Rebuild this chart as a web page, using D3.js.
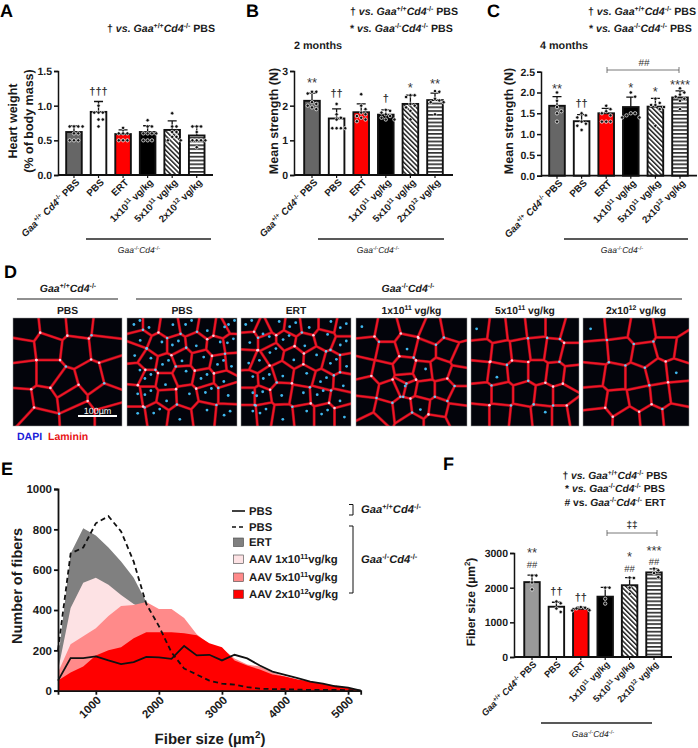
<!DOCTYPE html>
<html><head><meta charset="utf-8"><script src="https://cdn.jsdelivr.net/npm/d3@7"></script>
<style>html,body{margin:0;padding:0;background:#fff}svg{display:block;opacity:.999}text{font-family:"Liberation Sans",Arial,sans-serif;font-weight:bold;fill:#1a1a1a;text-rendering:geometricPrecision}.pl{font-weight:700;fill:#000}</style></head>
<body><svg id="c" width="698" height="748"></svg>
<script>
const doseCats=["Gaa+/+","PBS","ERT","1e11","5e11","2e12"];
const catLabels=["_Gaa_^{+/+} _Cd4_^{-/-} PBS","PBS","ERT","1x10^{11} vg/kg","5x10^{11} vg/kg","2x10^{12} vg/kg"];
const heartMean=[0.62,0.91,0.59,0.62,0.65,0.57];
const heartSd=[0.09,0.15,0.06,0.09,0.13,0.13];
const heartDots=[[.70,.70,.70,.70,.60,.60,.50,.50,.50],[1.0,.90,.90,.90,.80,.80,.70],[.68,.60,.60,.60,.50,.50,.50],[.79,.70,.70,.60,.60,.60,.60,.50,.50,.50],[.89,.70,.70,.62,.62,.55,.55,.50,.50],[.70,.70,.70,.62,.50,.50,.50,.50,.40]];
const heartNotes=[["†††",1,1.15]];
const str2Mean=[2.14,1.63,1.81,1.74,2.05,2.16];
const str2Sd=[.22,.28,.24,.14,.25,.2];
const str2Dots=[[2.4,2.4,2.35,2.1,2.05,2.0,1.95,1.9],[2.05,1.75,1.65,1.6,1.35,1.35,1.35,1.35],[2.33,2.0,1.9,1.8,1.75,1.7,1.65,1.6,1.55],[1.88,1.85,1.8,1.75,1.7,1.65,1.6,1.6],[2.3,2.3,2.25,2.05,2.0,1.95,1.85,1.6],[2.42,2.4,2.2,2.15,2.1,2.1,1.75]];
const str2Notes=[["**",0,2.53],["††",1,2.24],["†",3,2.12],["*",4,2.38],["**",5,2.51]];
const str4Mean=[1.68,1.31,1.5,1.65,1.66,1.88];
const str4Sd=[.22,.16,.12,.24,.2,.16];
const str4Dots=[[2.0,1.8,1.65,1.55,1.5,1.3],[1.5,1.45,1.4,1.3,1.25,1.2,1.1],[1.68,1.6,1.55,1.5,1.45,1.3,1.3,1.3],[2.0,1.9,1.5,1.5,1.45,1.4,1.4],[1.85,1.75,1.7,1.7,1.65,1.6,1.2],[2.1,2.0,1.95,1.9,1.85,1.8,1.6]];
const str4Notes=[["**",0,1.98],["††",1,1.66],["*",3,2.02],["*",4,1.92],["****",5,2.08]];
const fibMean=[2160,1450,1390,1740,2070,2440];
const fibSd=[200,130,50,270,220,100];
const fibDots=[[2350,2350,2150,1950],[1600,1550,1400,1300],[1440,1420,1400,1350,1340],[2000,2000,1680,1540],[2290,2280,2000,1820],[2550,2500,2420,2300]];
const fibNotes=[["**",0,2880],["##",0,2570],["††",1,1780],["††",2,1615],["*",4,2770],["##",4,2445],["***",5,2950],["##",5,2640]];
const sizeBins=[400,600,800,1000,1200,1400,1600,1800,2000,2200,2400,2600,2800,3000,3200,3400,3600,3800,4000,4200,4400,4600,4800,5000,5200];
const ertCounts=[150,680,805,770,710,640,560,440,300,180,90,50,30,20,15,10,8,6,5,4,3,2,2,1,0];
const aav1Counts=[100,410,535,560,525,475,430,400,320,230,150,100,70,50,35,25,18,12,10,8,6,4,3,2,0];
const aav5Counts=[90,230,270,310,370,420,425,440,405,405,360,280,230,210,160,130,120,90,70,55,45,35,25,15,0];
const aav2Counts=[50,90,120,175,200,215,260,290,290,290,285,275,235,215,150,125,105,80,70,55,45,35,25,15,0];
const pbsWtCounts=[50,162,162,170,150,132,142,168,165,158,222,175,178,150,178,160,125,95,78,62,45,35,22,15,0];
const pbsKoCounts=[200,680,710,830,865,790,640,430,320,190,110,80,50,35,30,18,10,8,8,5,4,4,4,3,0];
const microTitles=["PBS","PBS","ERT","1x10^{11} vg/kg","5x10^{11} vg/kg","2x10^{12} vg/kg"];
const cells1=[[11,11],[38,8],[60,6],[86,9],[8,29],[32,26],[57,29],[84,26],[11,52],[32,52],[47,63],[72,56],[92,51],[9,79],[28,76],[53,73],[84,73],[24,93],[61,91],[89,91]];
const cells2=[[9,6],[20,6],[39,9],[56,6],[73,9],[86,11],[95,6],[12,18],[29,25],[44,25],[63,23],[82,25],[94,23],[7,32],[19,40],[35,43],[50,37],[67,39],[85,43],[95,42],[9,51],[19,56],[35,59],[51,52],[70,56],[88,56],[7,73],[19,71],[36,74],[54,73],[74,69],[92,69],[7,91],[27,88],[48,91],[70,88],[91,90]];
const cells3=[[7,6],[20,12],[32,6],[47,8],[62,6],[79,6],[93,9],[8,20],[23,20],[41,20],[58,23],[76,18],[93,25],[7,39],[14,42],[29,32],[48,36],[66,37],[84,42],[96,42],[8,57],[23,56],[38,51],[57,54],[75,59],[93,60],[8,72],[17,72],[37,69],[54,72],[72,71],[90,74],[8,89],[20,88],[38,91],[57,89],[76,89],[94,89]];
const cells4=[[8,8],[28,12],[50,6],[68,14],[88,10],[10,28],[28,32],[46,26],[62,30],[82,30],[95,36],[6,46],[24,50],[44,46],[60,50],[76,48],[92,54],[10,64],[30,68],[45,58],[43,62],[47,63],[62,66],[80,66],[92,72],[8,82],[25,86],[42,84],[58,82],[74,84],[90,88],[15,97],[50,97],[72,97]];
const cells5=[[8,10],[24,12],[42,10],[60,8],[78,8],[92,12],[10,30],[28,32],[46,30],[62,28],[76,30],[92,34],[8,50],[24,52],[44,50],[62,50],[78,52],[94,54],[10,70],[28,70],[50,70],[68,72],[84,72],[8,90],[26,90],[46,92],[66,90],[84,90],[96,88]];
const cells6=[[10,10],[32,8],[55,12],[80,8],[12,32],[35,30],[58,34],[80,28],[94,30],[10,52],[30,55],[50,55],[70,50],[88,48],[12,75],[32,78],[54,74],[74,72],[90,70],[14,93],[42,94],[65,92],[86,90]];
const microCells=[cells1,cells2,cells3,cells4,cells5,cells6];
const microNuclei=[0,1,1,.15,.08,.08];

const svg=d3.select("#c");
const defs=svg.append("defs");
const hatch=defs.append("pattern").attr("id","hatch").attr("patternUnits","userSpaceOnUse").attr("width",3.4).attr("height",3.4).attr("patternTransform","rotate(-45)");
hatch.append("rect").attr("width",3.4).attr("height",3.4).attr("fill","#fff");
hatch.append("rect").attr("width",1.5).attr("height",3.4).attr("fill","#222");
const stripes=defs.append("pattern").attr("id","stripes").attr("patternUnits","userSpaceOnUse").attr("width",4).attr("height",3.8);
stripes.append("rect").attr("width",4).attr("height",3.8).attr("fill","#fff");
stripes.append("rect").attr("width",4).attr("height",1.7).attr("fill","#333");

function rich(t,str,fs){
  const toks=str.split(/(\^\{.*?\}|_)/).filter(s=>s!=="");
  let it=false,shift=0;
  for(const k of toks){
    if(k==="_"){it=!it;continue;}
    const sup=k.startsWith("^{");
    const txt=sup?k.slice(2,-1):k;
    const target=sup?-fs*0.38:0;
    const s=t.append("tspan").text(txt).attr("dy",target-shift);
    shift=target;
    if(sup)s.attr("font-size",fs*0.66);
    if(it)s.attr("font-style","italic");
  }
  return t;
}
function label(x,y,str,fs,o={}){
  const t=svg.append("text").attr("x",x).attr("y",y).attr("font-size",fs).attr("text-anchor",o.a||"start");
  if(o.w)t.style("font-weight",o.w);
  if(o.fill)t.style("fill",o.fill);
  return rich(t,str,fs);
}
function rot(x,y,str,fs,o={}){
  const t=svg.append("text").attr("transform",`translate(${x},${y}) rotate(${o.r??-90})`).attr("font-size",fs).attr("text-anchor",o.a||"middle");
  if(o.w)t.style("font-weight",o.w);
  return rich(t,str,fs);
}
function hline(x1,x2,y,w=1,c="#222"){svg.append("line").attr("x1",x1).attr("x2",x2).attr("y1",y).attr("y2",y).attr("stroke",c).attr("stroke-width",w);}
function vline(x,y1,y2,w=1,c="#222"){svg.append("line").attr("x1",x).attr("x2",x).attr("y1",y1).attr("y2",y2).attr("stroke",c).attr("stroke-width",w);}
function panelLetter(s,x,y){svg.append("text").attr("class","pl").attr("x",x).attr("y",y).attr("font-size",18).text(s);}

function barPanel(p){
  const g=svg.append("g");
  const y=d3.scaleLinear().domain([0,p.max]).range([p.y0,p.y1]);
  const x=d3.scaleBand().domain(doseCats).range(p.xr).paddingInner(.3).paddingOuter(.15);
  const bw=x.bandwidth();
  const cx=i=>x(doseCats[i])+bw/2;
  const fills=[p.first,"#fff","#f00","#000","url(#hatch)","url(#stripes)"];
  g.selectAll(".e").data(p.mean).join("path").attr("fill","none").attr("stroke","#111").attr("stroke-width",1.3)
   .attr("d",(m,i)=>`M${cx(i)},${y(m)}V${y(m+p.sd[i])}M${cx(i)-4.5},${y(m+p.sd[i])}H${cx(i)+4.5}`);
  g.selectAll(".b").data(p.mean).join("rect").attr("x",(d,i)=>x(doseCats[i])+.8).attr("width",bw-1.6)
   .attr("y",d=>y(d)).attr("height",d=>p.y0-y(d)).attr("fill",(d,i)=>fills[i]).attr("stroke","#111").attr("stroke-width",1.9);
  const R=1.7,gap=4.3;
  p.dots.forEach((vals,i)=>{
    const placed=[];
    vals.forEach(v=>{
      const py=y(v);let off=0,n=0;
      const hit=o=>placed.some(q=>Math.hypot(q[0]-o,q[1]-py)<gap);
      while(hit(off)&&n<12){n++;off=(n%2?1:-1)*Math.ceil(n/2)*gap;}
      placed.push([off,py]);
      g.append("circle").attr("cx",cx(i)+off).attr("cy",py).attr("r",R).attr("fill","#111").attr("stroke","#fff").attr("stroke-width",.7);
    });
  });
  const yA=d3.axisLeft(y).tickValues(p.ticks).tickSize(4).tickPadding(2).tickFormat(p.fmt);
  const ga=svg.append("g").attr("transform",`translate(${p.x0},0)`).call(yA);
  ga.selectAll("path,line").attr("stroke","#111").attr("stroke-width",1.5);
  ga.selectAll("text").attr("font-size",10.5).style("fill","#1a1a1a");
  const xA=d3.axisBottom(x).tickSize(3).tickFormat("");
  const gx=svg.append("g").attr("transform",`translate(0,${p.y0})`).call(xA);
  gx.selectAll("line").attr("stroke","#111").attr("stroke-width",1.2);
  gx.select("path").remove();
  hline(p.x0,p.xEnd,p.y0,1.8,"#111");
  catLabels.forEach((l,i)=>rot(cx(i)+p.lx,p.y0+p.ly,l,p.lf,{r:-45,a:"end"}));
  p.notes.forEach(n=>{
    const star=n[0].startsWith("*"),hash=n[0].startsWith("#");
    label(cx(n[1]),y(n[2]),n[0],star?13:(hash?9.5:11),{a:"middle",fill:"#333",w:star||hash?"normal":"bold"});
  });
}

const F1=d3.format(".1f"),F0=d3.format("d");
barPanel({x0:58,xEnd:213,y0:175,y1:71,max:1.5,ticks:[0,.5,1,1.5],fmt:F1,xr:[61.7,209],first:"#666",mean:heartMean,sd:heartSd,dots:heartDots,notes:heartNotes,lx:6,ly:8,lf:9.7});
barPanel({x0:294,xEnd:453,y0:175,y1:71,max:3,ticks:[0,1,2,3],fmt:F0,xr:[299.7,447.3],first:"#666",mean:str2Mean,sd:str2Sd,dots:str2Dots,notes:str2Notes,lx:6,ly:8,lf:9.7});
barPanel({x0:541,xEnd:697,y0:175.7,y1:71.7,max:2.5,ticks:[0,.5,1,1.5,2,2.5],fmt:F1,xr:[544.7,692.3],first:"#666",mean:str4Mean,sd:str4Sd,dots:str4Dots,notes:str4Notes,lx:6,ly:8,lf:9.7});
barPanel({x0:514,xEnd:672,y0:657,y1:553,max:3000,ticks:[0,1000,2000,3000],fmt:F0,xr:[519.8,666.2],first:"#999",mean:fibMean,sd:fibSd,dots:fibDots,notes:fibNotes,lx:5,ly:8,lf:9.2});

panelLetter("A",0,17);panelLetter("B",246,17);panelLetter("C",487,17);panelLetter("D",4,278);panelLetter("E",1,475);panelLetter("F",443,470);

const HW="† vs. _Gaa_^{+/+}_Cd4_^{-/-} PBS", HK="* vs. _Gaa_^{-/-}_Cd4_^{-/-} PBS";
const ital=s=>s.replace(/^(.) vs\. /,"$1 _vs. _");
label(107,32,ital(HW),10.6);
label(350,15,ital(HW),10.6);label(350,32,ital(HK),10.6);
label(588,15,ital(HW),10.6);label(589,32,ital(HK),10.6);
label(294,49,"2 months",10.8);label(540,49,"4 months",10.8);
rot(17,121,"Heart weight",12.5);rot(33,121,"(% of body mass)",12.5);
rot(278,121,"Mean strength (N)",12.5);rot(513,121,"Mean strength (N)",12.5);
rot(475,602,"Fiber size (µm^{2})",12);

const KO="_Gaa_^{-/-}_Cd4_^{-/-}",WT="_Gaa_^{+/+}_Cd4_^{-/-}";
[[86,211,139],[318,444,378],[564,688,622]].forEach(a=>{hline(a[0],a[1],239,1.3);label(a[2],253,KO,8.5,{a:"middle",w:"normal"});});
hline(541,652,723,1.3);label(593,737,KO,8.5,{a:"middle",w:"normal"});
hline(607,679,70,.8,"#555");vline(607,67,73,.8,"#555");vline(679,67,73,.8,"#555");label(644,66,"##",10,{a:"middle",fill:"#333",w:"normal"});
hline(607,657,533,.8,"#555");vline(607,530,536,.8,"#555");vline(657,530,536,.8,"#555");label(632,528,"‡‡",10,{a:"middle",fill:"#333"});
label(615,479,"† _vs. Gaa_^{+/+}_Cd4_^{-/-} PBS",10.3,{a:"middle"});
label(615,492,"* _vs. Gaa_^{-/-}_Cd4_^{-/-} PBS",10.3,{a:"middle"});
label(615,506,"# vs. _Gaa_^{-/-}_Cd4_^{-/-} ERT",10.3,{a:"middle"});

// Panel D
const microX=[[13,122],[127,237],[241,351],[356,467],[471,579],[583,689]];
const microTop=318,microBot=426;
label(68,292,WT,10.5,{a:"middle"});label(408,292,KO,10.5,{a:"middle"});
hline(17,118,299,1.1);hline(136,682,299,1.1);
microCells.forEach((seeds,k)=>{
  const [xa,xb]=microX[k];
  const sx=d3.scaleLinear().domain([0,100]).range([0,xb-xa]);
  const sy=d3.scaleLinear().domain([0,100]).range([0,microBot-microTop]);
  defs.append("clipPath").attr("id","mc"+k).append("rect").attr("width",xb-xa).attr("height",microBot-microTop);
  const g=svg.append("g").attr("transform",`translate(${xa},${microTop})`);
  const inner=g.append("g").attr("clip-path",`url(#mc${k})`);
  inner.append("rect").attr("width",xb-xa).attr("height",microBot-microTop).attr("fill","#03040b");
  const pts=seeds.map(s=>[sx(s[0]),sy(s[1])]);
  const vor=d3.Delaunay.from(pts).voronoi([-15,-15,xb-xa+15,microBot-microTop+15]);
  const path=vor.render();
  inner.append("path").attr("d",path).attr("fill","none").attr("stroke","#8a0c18").attr("stroke-width",3).attr("stroke-linejoin","round");
  inner.append("path").attr("d",path).attr("fill","none").attr("stroke","#f01526").attr("stroke-width",1.8).attr("stroke-linejoin","round");
  const vx=vor.circumcenters;
  for(let i=0;i<vx.length;i+=2){
    const idx=i/2;
    if(idx%2&&k>0)continue;
    if(idx%3===0&&k===0)continue;
    inner.append("circle").attr("cx",vx[i]).attr("cy",vx[i+1]).attr("r",1.3).attr("fill",idx%4?"#f8cfe0":"#6fc8f0");
  }
  pts.forEach((p,i)=>{
    const q=microNuclei[k];
    if(q===0)return;
    if(q<1&&i%Math.round(1/q)!==0)return;
    inner.append("circle").attr("cx",p[0]+(i%3-1)*3).attr("cy",p[1]+((i+1)%3-1)*3).attr("r",1.4).attr("fill","#3fb7ee");
    if(q===1&&i%3===0)inner.append("circle").attr("cx",p[0]+3).attr("cy",p[1]-4).attr("r",1.4).attr("fill","#3fb7ee");
  });
  g.append("rect").attr("width",xb-xa).attr("height",microBot-microTop).attr("fill","none").attr("stroke","#999").attr("stroke-width",.5);
  label((xa+xb)/2,314,microTitles[k],10.3,{a:"middle"});
});
hline(78,117,416,2,"#fff");
label(97.5,414,"100µm",9,{a:"middle",fill:"#fff",w:"normal"});
label(17,440,"DAPI",10.5,{fill:"#1a1ad8"});label(48,440,"Laminin",10.5,{fill:"#e81414"});

// Panel E
const ex=d3.scaleLinear().domain([400,5200]).range([58,360.7]);
const ey=d3.scaleLinear().domain([0,1000]).range([690.7,489]);
const area=d3.area().x((d,i)=>ex(sizeBins[i])).y0(ey(0)).y1(d=>ey(d));
const line=d3.line().x((d,i)=>ex(sizeBins[i])).y(d=>ey(d));
[[ertCounts,"#808080"],[aav1Counts,"#fde2e4"],[aav5Counts,"#ff8a8a"],[aav2Counts,"#ff0000"]].forEach(s=>svg.append("path").attr("d",area(s[0])).attr("fill",s[1]));
svg.append("path").attr("d",line(pbsWtCounts)).attr("fill","none").attr("stroke","#111").attr("stroke-width",1.8);
svg.append("path").attr("d",line(pbsKoCounts)).attr("fill","none").attr("stroke","#111").attr("stroke-width",1.8).attr("stroke-dasharray","5,3.5");
const eay=svg.append("g").attr("transform","translate(58,0)").call(d3.axisLeft(ey).tickValues([0,200,400,600,800,1000]).tickSize(4).tickPadding(2).tickFormat(F0));
eay.selectAll("path,line").attr("stroke","#111").attr("stroke-width",1.8);
eay.selectAll("text").attr("font-size",11.5).style("fill","#1a1a1a");
const eax=svg.append("g").attr("transform","translate(0,690.7)").call(d3.axisBottom(ex).tickValues([1000,2000,3000,4000,5000]).tickSize(4).tickFormat(""));
eax.selectAll("path,line").attr("stroke","#111").attr("stroke-width",1.8);
[1000,2000,3000,4000,5000].forEach(v=>rot(ex(v)+6,701,String(v),11.5,{r:-45,a:"end"}));
rot(22,586,"Number of fibers",14.5);
label(210,744,"Fiber size (µm^{2})",15,{a:"middle"});
// legend
const legX=249,legFs=11.3;
hline(232,245,511,1.6,"#111");label(legX,514.5,"PBS",legFs);
svg.append("line").attr("x1",232).attr("x2",245).attr("y1",527).attr("y2",527).attr("stroke","#111").attr("stroke-width",1.6).attr("stroke-dasharray","4,3");label(legX,530.5,"PBS",legFs);
[["ERT","#808080",542],["AAV 1x10^{11}vg/kg","#fde2e4",559],["AAV 5x10^{11}vg/kg","#ff8a8a",577],["AAV 2x10^{12}vg/kg","#ff0000",594]].forEach(r=>{
  svg.append("rect").attr("x",233.5).attr("y",r[2]-4).attr("width",10).attr("height",8.5).attr("fill",r[1]).attr("stroke","#444").attr("stroke-width",.6);
  label(legX,r[2]+3.8,r[0],legFs);
});
svg.append("path").attr("d","M349,504.5H353V515H349").attr("fill","none").attr("stroke","#111").attr("stroke-width",1);
svg.append("path").attr("d","M349,526H353V593H349").attr("fill","none").attr("stroke","#111").attr("stroke-width",1);
label(361,513,WT,11.2);label(361,563,KO,11.2);
</script></body></html>
